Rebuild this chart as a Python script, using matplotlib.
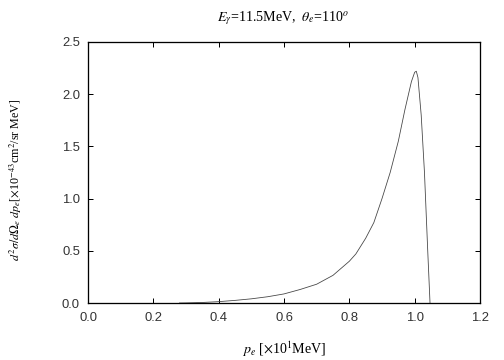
import numpy as np
import matplotlib.pyplot as plt

# curve
pe = [0.28, 0.30, 0.35, 0.40, 0.45, 0.50, 0.55, 0.60, 0.65, 0.70, 0.75,
      0.80, 0.82, 0.85, 0.875, 0.90, 0.925, 0.95, 0.97, 0.99, 1.00, 1.005,
      1.01, 1.02, 1.03, 1.04, 1.047]
xsec = [0.0, 0.001, 0.005, 0.013, 0.025, 0.04, 0.06, 0.087, 0.13, 0.18, 0.265,
        0.40, 0.47, 0.62, 0.77, 1.0, 1.25, 1.55, 1.85, 2.12, 2.21, 2.22,
        2.16, 1.80, 1.25, 0.50, 0.0]

xticks = [0.0, 0.2, 0.4, 0.6, 0.8, 1.0, 1.2]
yticks = [0.0, 0.5, 1.0, 1.5, 2.0, 2.5]

plt.rcParams['mathtext.fontset'] = 'stix'

fig = plt.figure(figsize=(7, 5), dpi=72)
ax = fig.add_axes([88 / 504, 57 / 360, 392 / 504, 261 / 360])
ax.plot(pe, xsec, color='#444444', lw=0.8)

ax.set_xlim(0, 1.2)
ax.set_ylim(0, 2.5)
ax.set_xticks(xticks)
ax.set_yticks(yticks)
ax.set_xticklabels(['%.1f' % v for v in xticks])
ax.set_yticklabels(['%.1f' % v for v in yticks])
ax.tick_params(direction='in', length=5, width=1, top=True, right=True,
               labelsize=13)
ax.tick_params(axis='x', pad=9)
ax.tick_params(axis='y', pad=8)
for lab in ax.get_xticklabels() + ax.get_yticklabels():
    lab.set_family('Liberation Sans')
    lab.set_color('#333333')
for s in ax.spines.values():
    s.set_linewidth(1.3)

serif = 'Liberation Serif'
fig.text(283 / 504, 1 - 18 / 360, r'$E_\gamma$=11.5MeV,  $\theta_e$=110$^o$',
         family=serif, fontsize=14, ha='center', va='center')
fig.text(284 / 504, 1 - 349 / 360, r'$p_e$ [$\times$10$^1$MeV]',
         family=serif, fontsize=14, ha='center', va='center')
fig.text(16 / 504, 1 - 180 / 360,
         r'$d^2\sigma/d\Omega_e\ dp_e$[$\times$10$^{-43}$cm$^2$/sr MeV]',
         family=serif, fontsize=12, ha='center', va='center', rotation=90)

fig.savefig('out.png', dpi=72)
